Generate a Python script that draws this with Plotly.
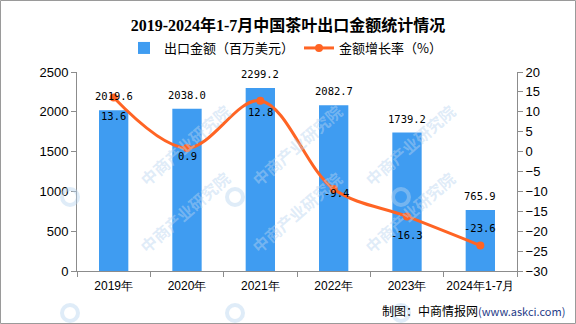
import plotly.graph_objects as go

categories = ["2019年", "2020年", "2021年", "2022年", "2023年", "2024年1-7月"]
export_value = [2019.6, 2038.0, 2299.2, 2082.7, 1739.2, 765.9]
growth_rate = [13.6, 0.9, 12.8, -9.4, -16.3, -23.6]
bar_labels = ["2019.6", "2038.0", "2299.2", "2082.7", "1739.2", "765.9"]
rate_labels = ["13.6", "0.9", "12.8", "-9.4", "-16.3", "-23.6"]
rate_label_shift = [(0, -19), (0, -8), (0, -11), (3, -4), (0, -19), (0, 18)]

W, H = 576, 324
L, R, T, B = 77, 59, 72, 53
PW, PH = W - L - R, H - T - B


def px_x(px):
    return (px - L) / PW


def px_y(py):
    return (H - B - py) / PH


BLUE = "#3F9CF1"
ORANGE = "#FF6424"
AXIS = "#8C8C8C"
WM = "rgba(185,212,240,0.45)"
LABEL_FONT = dict(family="DejaVu Sans Mono, Liberation Mono, monospace", size=10.5, color="#000")

fig = go.Figure()
fig.add_trace(go.Bar(
    x=categories, y=export_value, name="出口金额（百万美元）",
    marker=dict(color=BLUE, line=dict(width=0)), width=0.4,
))
fig.add_trace(go.Scatter(
    x=categories, y=growth_rate, name="金额增长率（%）", yaxis="y2",
    mode="lines+markers", line=dict(color=ORANGE, width=3, shape="spline", smoothing=1.0),
    marker=dict(color=ORANGE, size=8),
))

ann = []
shapes = []
# watermark tiles (only those that fit inside the picture)
wm_cols = [70, 235, 401]
wm_rows = [197, 313]
for ly in wm_rows:
    for lx in wm_cols:
        ann.append(dict(x=px_x(lx + 62), y=px_y(ly - 52), xref="paper", yref="paper",
                        text="<b>中商产业研究院</b>", showarrow=False, textangle=-41,
                        font=dict(family="Noto Sans CJK SC", size=16, color=WM)))
        shapes.append(dict(type="circle", xref="paper", yref="paper",
                           xsizemode="pixel", ysizemode="pixel",
                           xanchor=px_x(lx), yanchor=px_y(ly),
                           x0=-8, x1=8, y0=-8, y1=8,
                           line=dict(color=WM, width=4)))

for c, v, t in zip(categories, export_value, bar_labels):
    ann.append(dict(x=c, y=v, xref="x", yref="y", text=t, showarrow=False,
                    yshift=14, font=LABEL_FONT))
for c, v, t, (dx, dy) in zip(categories, growth_rate, rate_labels, rate_label_shift):
    ann.append(dict(x=c, y=v, xref="x", yref="y2", text=t, showarrow=False,
                    xshift=dx, yshift=dy, font=LABEL_FONT))
ann.append(dict(
    x=px_x(567), y=px_y(310), xref="paper", yref="paper", xanchor="right", yanchor="middle",
    showarrow=False,
    text="制图：中商情报网<span style='color:#1F3C88;font-size:11px'>(www.askci.com)</span>",
    font=dict(family="Noto Sans CJK SC, Noto Sans", size=12, color="#000"),
))

shapes.append(dict(type="rect", xref="paper", yref="paper",
                   x0=px_x(0.5), x1=px_x(W - 0.5), y0=px_y(H - 0.5), y1=px_y(0.5),
                   line=dict(color="#9A9A9A", width=1)))

fig.update_layout(
    width=W, height=H,
    margin=dict(l=L, r=R, t=T, b=B, autoexpand=False),
    paper_bgcolor="white", plot_bgcolor="white",
    title=dict(text="<b>2019-2024年1-7月中国茶叶出口金额统计情况</b>",
               x=0.5, xanchor="center", y=1 - 25 / H, yanchor="middle",
               font=dict(family="Liberation Serif, Noto Sans CJK SC", size=16, color="#000")),
    showlegend=True,
    legend=dict(orientation="h", x=px_x(124), xanchor="left", y=px_y(48), yanchor="middle",
                font=dict(family="Noto Sans CJK SC", size=13, color="#000"),
                bgcolor="rgba(0,0,0,0)", itemwidth=30, tracegroupgap=0),
    bargap=0.6,
    xaxis=dict(type="category", showline=True, linecolor=AXIS, linewidth=1, automargin=False,
               ticks="outside", tickson="boundaries", ticklen=5, tickcolor=AXIS, tickangle=0,
               ticklabelstandoff=4,
               tickfont=dict(family="Liberation Sans, Arial", size=12, color="#000"),
               showgrid=False, zeroline=False),
    yaxis=dict(range=[0, 2500], dtick=500, showline=True, linecolor=AXIS, linewidth=1,
               automargin=False,
               ticks="outside", ticklen=5, tickcolor=AXIS, showgrid=False, zeroline=False,
               tickfont=dict(family="Liberation Sans, Arial", size=13, color="#000")),
    yaxis2=dict(range=[-30, 20], dtick=5, overlaying="y", side="right", automargin=False,
                showline=True, linecolor=AXIS, linewidth=1,
                ticks="outside", ticklen=5, tickcolor=AXIS, showgrid=False, zeroline=False,
                tickfont=dict(family="Liberation Sans, Arial", size=13, color="#000")),
    annotations=ann,
    shapes=shapes,
)

fig.write_html("out.html")
